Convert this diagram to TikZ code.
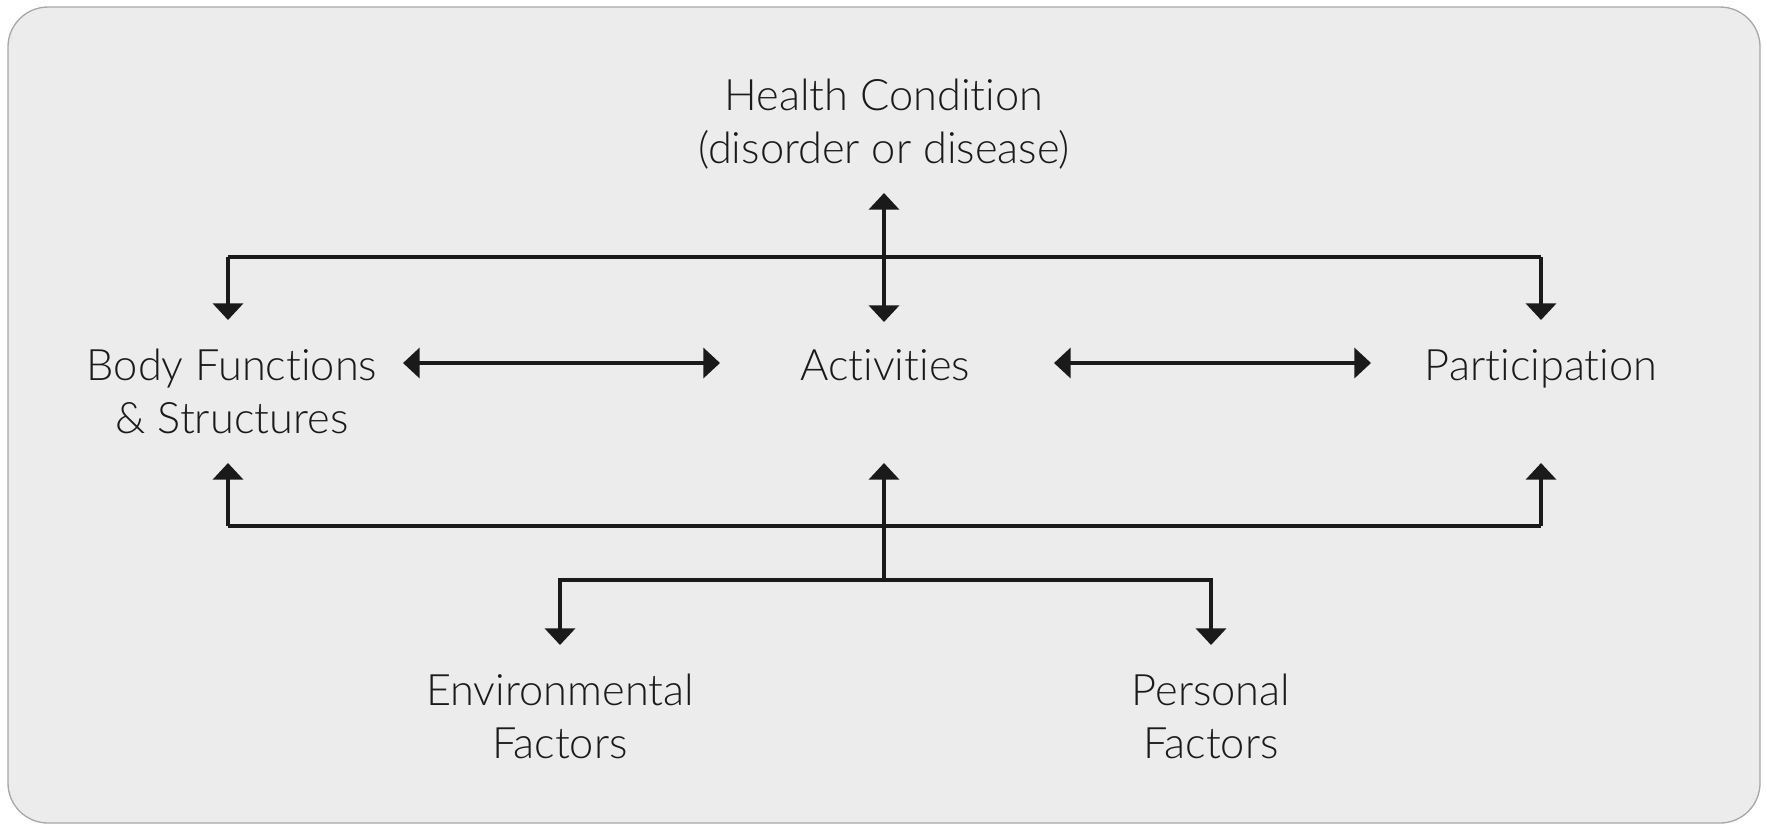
\documentclass[tikz,border=0pt]{standalone}
\usepackage{fontspec}
\setmainfont{Lato}[UprightFont=* Light, Ligatures={NoCommon,NoRare}]
\usetikzlibrary{arrows.meta}
\definecolor{bgfill}{HTML}{ECECEC}
\definecolor{bgline}{HTML}{A8A8A8}
\definecolor{ink}{HTML}{1A1A1A}
\tikzset{
  lbl/.style={anchor=base, align=center, inner sep=0pt, text=ink,
    font=\fontsize{13}{15.9}\selectfont},
  conn/.style={draw=ink, line width=1.1pt},
  tipped/.style={conn, -{Triangle[width=9pt,length=5pt]}},
  dbl/.style={conn, {Triangle[width=9pt,length=5pt]}-{Triangle[width=9pt,length=5pt]}}
}
\begin{document}
\begin{tikzpicture}[x=0.3pt,y=-0.3pt]
\useasboundingbox (0,0) rectangle (1767,827);
\draw[fill=bgfill, draw=bgline, line width=0.4pt, rounded corners=12pt] (8,7) rectangle (1760,823);

% nodes (base anchor = baseline of last line)
\node[lbl] (hc) at (884,163) {Health Condition\\(disorder or disease)};
\node[lbl] (bf) at (232,433) {Body Functions\\\& Structures};
\node[lbl] (act) at (885,380) {Activities};
\node[lbl] (par) at (1541,380) {Participation};
\node[lbl] (env) at (560,758) {Environmental\\Factors};
\node[lbl] (per) at (1211,758) {Personal\\Factors};

% junction coordinates
\coordinate (hcTop) at (884,193);
\coordinate (hcBot) at (884,322);
\coordinate (tl) at (228,257);
\coordinate (tr) at (1541,257);
\coordinate (bfTop) at (228,320);
\coordinate (parTop) at (1541,320);
\coordinate (bl) at (228,526);
\coordinate (br) at (1541,526);
\coordinate (bfBot) at (228,463);
\coordinate (parBot) at (1541,463);
\coordinate (actBot) at (884,463);
\coordinate (fork) at (884,580);
\coordinate (envL) at (560,580);
\coordinate (perR) at (1211,580);
\coordinate (envTop) at (560,645);
\coordinate (perTop) at (1211,645);
\coordinate (bfR) at (403,363);
\coordinate (actL) at (720,363);
\coordinate (actR) at (1054,363);
\coordinate (parL) at (1371,363);

% connectors
\draw[dbl] (hcTop) -- (hcBot);
\draw[tipped] (tl) -- (bfTop);
\draw[conn] (tl) -- (tr);
\draw[tipped] (tr) -- (parTop);
\draw[dbl] (bfR) -- (actL);
\draw[dbl] (actR) -- (parL);
\draw[tipped] (bl) -- (bfBot);
\draw[conn] (bl) -- (br);
\draw[tipped] (br) -- (parBot);
\draw[tipped] (fork) -- (actBot);
\draw[tipped] (fork) -- (envL) -- (envTop);
\draw[tipped] (fork) -- (perR) -- (perTop);
\end{tikzpicture}
\end{document}
